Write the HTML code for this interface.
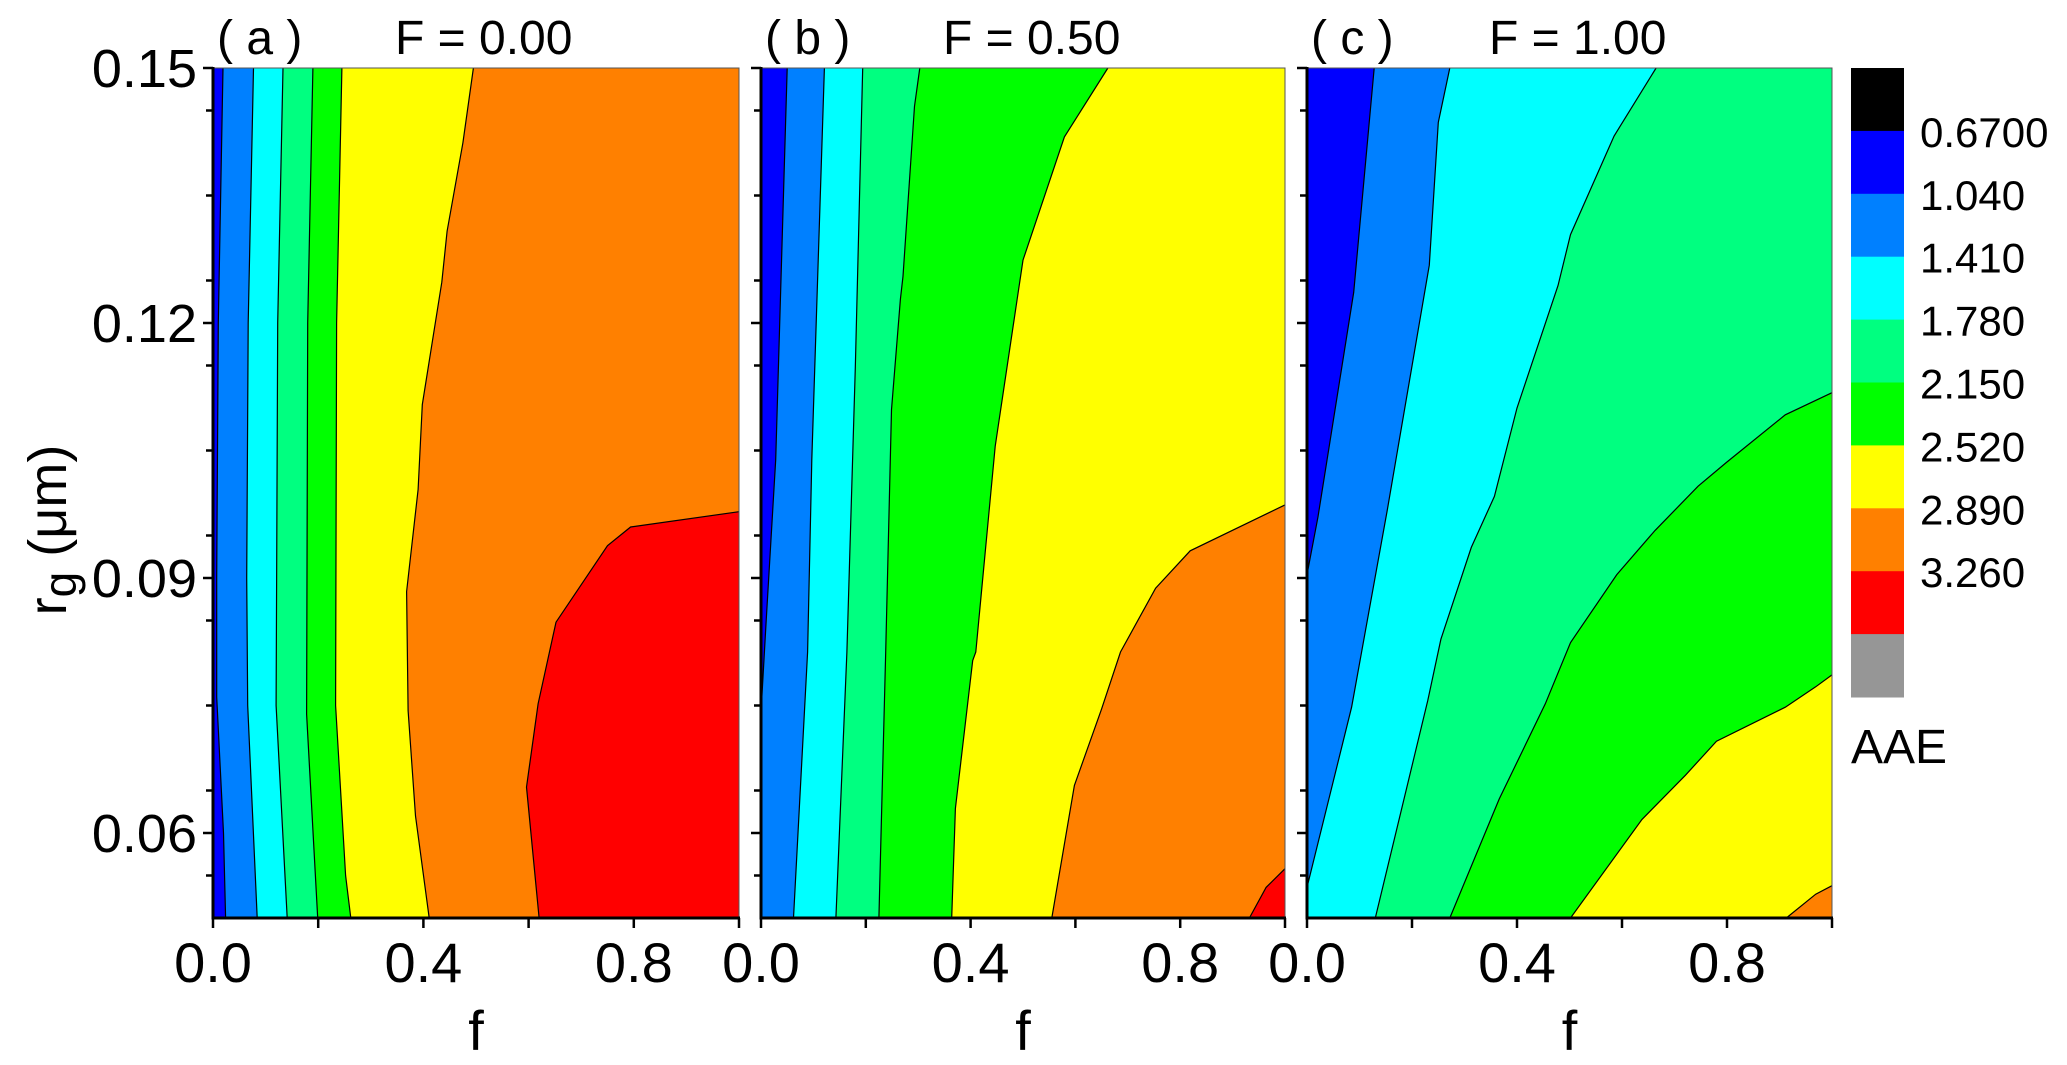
<!DOCTYPE html>
<html><head><meta charset="utf-8"><style>
html,body{margin:0;padding:0;background:#fff;}
svg{display:block;font-family:"Liberation Sans",Arial,sans-serif;}
</style></head><body>
<svg id="chart" width="2067" height="1065" viewBox="0 0 2067 1065" xmlns="http://www.w3.org/2000/svg"></svg>
<script>
// ---- data ----
const levelColors = ["#0000ff","#0080ff","#00ffff","#00ff80","#00ff00","#ffff00","#ff8000","#ff0000"];
const legendLabels = ["0.6700","1.040","1.410","1.780","2.150","2.520","2.890","3.260"];
const legendColors = ["#000000","#0000ff","#0080ff","#00ffff","#00ff80","#00ff00","#ffff00","#ff8000","#ff0000","#969696"];
const yTicks = [0.06,0.09,0.12,0.15];
const yTickLabels = ["0.06","0.09","0.12","0.15"];
const xTicks = [0.0,0.4,0.8];
const xTickLabels = ["0.0","0.4","0.8"];
const panelTitles = ["( a )","( b )","( c )"];
const panelF = ["F = 0.00","F = 0.50","F = 1.00"];
// contour boundaries [f, r] ; region on right/below = next level colour
const panelA = [
 [[0.019,0.15],[0.01,0.12],[0.007,0.09],[0.007,0.076],[0.02,0.06],[0.024,0.05]],
 [[0.077,0.15],[0.067,0.12],[0.064,0.09],[0.066,0.075],[0.084,0.05]],
 [[0.133,0.15],[0.123,0.12],[0.12,0.075],[0.141,0.05]],
 [[0.19,0.15],[0.18,0.12],[0.178,0.074],[0.199,0.05]],
 [[0.245,0.15],[0.235,0.12],[0.233,0.075],[0.252,0.055],[0.262,0.05]],
 [[0.495,0.15],[0.475,0.1412],[0.445,0.1308],[0.435,0.1248],[0.398,0.1104],[0.39,0.1004],[0.368,0.0884],[0.371,0.0744],[0.385,0.062],[0.411,0.05]],
 [[1.0,0.0978],[0.794,0.096],[0.75,0.0938],[0.652,0.0848],[0.618,0.0752],[0.596,0.0654],[0.62,0.05]]
];
const panelB = [
 [[0.05,0.15],[0.028,0.1039],[0.01,0.085],[0.0,0.0742]],
 [[0.121,0.15],[0.097,0.1039],[0.089,0.0813],[0.062,0.05]],
 [[0.194,0.15],[0.18,0.1147],[0.164,0.0813],[0.143,0.05]],
 [[0.303,0.15],[0.293,0.1455],[0.271,0.1255],[0.266,0.1228],[0.249,0.1098],[0.238,0.0813],[0.225,0.05]],
 [[0.662,0.15],[0.579,0.1419],[0.5,0.1274],[0.447,0.1055],[0.437,0.099],[0.41,0.0813],[0.404,0.0803],[0.371,0.0629],[0.364,0.05]],
 [[1.0,0.0986],[0.819,0.0932],[0.753,0.0888],[0.686,0.0813],[0.65,0.0746],[0.598,0.0656],[0.555,0.05]],
 [[1.0,0.0558],[0.964,0.0536],[0.932,0.05]]
];
const panelC = [
 [[0.128,0.15],[0.089,0.1236],[0.021,0.0972],[0.0,0.0904]],
 [[0.272,0.15],[0.25,0.1436],[0.233,0.1268],[0.153,0.098],[0.085,0.0748],[0.0,0.0536]],
 [[0.665,0.15],[0.585,0.142],[0.502,0.1304],[0.478,0.1244],[0.4,0.11],[0.357,0.0996],[0.313,0.0936],[0.255,0.0828],[0.23,0.0756],[0.13,0.05]],
 [[1.0,0.1118],[0.911,0.1092],[0.799,0.1036],[0.745,0.1008],[0.663,0.0956],[0.59,0.0904],[0.502,0.0824],[0.454,0.0752],[0.366,0.064],[0.272,0.05]],
 [[1.0,0.0786],[0.969,0.0772],[0.911,0.0748],[0.78,0.0708],[0.721,0.0668],[0.638,0.0616],[0.502,0.05]],
 [[1.0,0.0538],[0.969,0.0528],[0.913,0.05]]
];
const panelData = [panelA, panelB, panelC];

// ---- layout ----
const NS="http://www.w3.org/2000/svg";
const svg=document.getElementById("chart");
const panelX=[[213,739],[761,1285],[1307,1832]];
const yTop=68, yBot=918, rMin=0.05, rMax=0.15;
function el(tag,attrs,parent){const e=document.createElementNS(NS,tag);for(const k in attrs)e.setAttribute(k,attrs[k]);(parent||svg).appendChild(e);return e;}
function yScale(r){return yBot-(r-rMin)/(rMax-rMin)*(yBot-yTop);}
function perimT(p){const [f,r]=p;const e=1e-6;
 if(Math.abs(r-rMax)<e) return f;
 if(Math.abs(f-1)<e) return 1+(rMax-r)/(rMax-rMin);
 if(Math.abs(r-rMin)<e) return 2+(1-f);
 return 3+(r-rMin)/(rMax-rMin);}
const corners=[[0,rMax,0],[1,rMax,1],[1,rMin,2],[0,rMin,3]];

panelData.forEach((bounds,pi)=>{
 const [x0,x1]=panelX[pi];
 const xs=f=>x0+f*(x1-x0);
 const g=el("g",{});
 
 
 const bg=el("rect",{x:x0,y:yTop,width:x1-x0,height:yBot-yTop,fill:levelColors[0]},g);
 
 
 bounds.forEach((b,bi)=>{
  const tS=perimT(b[0]), tE=perimT(b[b.length-1]);
  const cs=corners.filter(c=>c[2]>tS&&c[2]<tE).sort((a,c)=>c[2]-a[2]);
  const pts=b.concat(cs.map(c=>[c[0],c[1]]));
  const poly=el("polygon",{points:pts.map(p=>xs(p[0]).toFixed(1)+","+yScale(p[1]).toFixed(1)).join(" "),fill:levelColors[bi+1]},g);
  
  
 });
 bounds.forEach((b)=>{
  const ln=el("polyline",{points:b.map(p=>xs(p[0]).toFixed(1)+","+yScale(p[1]).toFixed(1)).join(" "),fill:"none",stroke:"#000","stroke-width":1.2},g);
  
  
 });
 const fr=el("rect",{x:x0,y:yTop,width:x1-x0,height:yBot-yTop,fill:"none",stroke:"#555","stroke-width":1},g);
 
 
 // axes
 const ax=el("path",{d:`M${x0} ${yTop-1} L${x0} ${yBot} L${x1+1} ${yBot}`,fill:"none",stroke:"#000","stroke-width":3},g);
 
 
 // y ticks (major + minor)
 for(let k=0;k<=20;k++){const r=rMin+k*0.005;if(r>rMax+1e-9)break;
  const isMajor=yTicks.some(t=>Math.abs(t-r)<1e-6);
  const len=isMajor?10:7;
  if(k%2===1||isMajor){
   const tk=el("line",{x1:x0-len,x2:x0,y1:yScale(r),y2:yScale(r),stroke:"#000","stroke-width":2.5},g);
   
   
  }}
 // x ticks
 for(let k=0;k<=5;k++){const f=k*0.2;
  const tk=el("line",{x1:xs(f),x2:xs(f),y1:yBot,y2:yBot+10,stroke:"#000","stroke-width":2.5},g);
  
  }
 xTicks.forEach((t,i)=>{
  const tx=el("text",{x:xs(t),y:982,"font-size":56,"text-anchor":"middle"},g);
  tx.textContent=xTickLabels[i];
  
  });
 const xl=el("text",{x:(x0+x1)/2,y:1050,"font-size":56,"text-anchor":"middle"},g);
 xl.textContent="f";
 
 
 const pt=el("text",{x:x0+4,y:54,"font-size":48},g);
 pt.textContent=panelTitles[pi];
 
 
 const ft=el("text",{x:x0+182,y:54,"font-size":48},g);
 ft.textContent=panelF[pi];
 
 
});
yTicks.forEach((t,i)=>{
 const tx=el("text",{x:197,y:yScale(t)+19,"font-size":54,"text-anchor":"end"});
 tx.textContent=yTickLabels[i];
 
 });
const yl=el("text",{x:0,y:0,"font-size":54,"text-anchor":"middle",transform:"translate(66,530) rotate(-90)"});
yl.innerHTML='r<tspan font-size="46" dy="10">g</tspan><tspan dy="-10"> (μm)</tspan>';


// legend
const lgX=1851,lgW=53,lgTop=68,lgH=62.9;
legendColors.forEach((c,i)=>{
 const r=el("rect",{x:lgX,y:lgTop+i*lgH,width:lgW,height:lgH+0.5,fill:c});
 
 });
legendLabels.forEach((l,i)=>{
 const t=el("text",{x:1920,y:lgTop+(i+1)*lgH+16,"font-size":42});
 t.textContent=l;
 
 });
const aae=el("text",{x:1851,y:763,"font-size":48});
aae.textContent="AAE";


</script>
</body></html>
